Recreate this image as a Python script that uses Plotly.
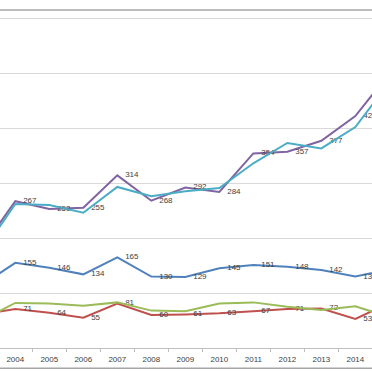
import plotly.graph_objects as go

years = list(range(2003, 2016))
purple = [180, 267, 253, 255, 314, 268, 292, 284, 354, 357, 377, 422, 500]
cyan = [172, 262, 260, 246, 293, 276, 285, 291, 336, 373, 363, 402, 483]
blue = [114, 155, 146, 134, 165, 130, 129, 145, 151, 148, 142, 130, 143]
red = [61, 71, 64, 55, 81, 60, 61, 63, 67, 71, 72, 53, 82]
green = [50, 82, 81, 77, 83, 68, 67, 81, 83, 75, 69, 76, 56]
tick_years = list(range(2004, 2015))
tick_labels = [str(y) for y in tick_years]


def labels(vals):
    return [""] + [str(v) for v in vals[1:-1]] + [""]


fig = go.Figure()
series = [
    (blue, "#4F81BD", True),
    (red, "#C0504D", True),
    (green, "#9BBB59", False),
    (purple, "#8064A2", True),
    (cyan, "#4BACC6", False),
]
for vals, col, lab in series:
    fig.add_trace(go.Scatter(
        x=years, y=vals,
        mode="lines+markers+text" if lab else "lines",
        line=dict(color=col, width=2),
        marker=dict(size=11, opacity=0, color=col),
        text=labels(vals) if lab else None,
        textposition="middle right",
        textfont=dict(family="Liberation Sans", size=8, color="#404040"),
        showlegend=False,
        hoverinfo="skip",
    ))

fig.update_layout(
    width=372, height=372, autosize=False,
    margin=dict(l=0, r=0, t=10, b=24, pad=0),
    paper_bgcolor="white", plot_bgcolor="white",
    xaxis=dict(
        range=[2003.55, 2014.49],
        tickmode="array", tickvals=tick_years, ticktext=tick_labels,
        ticks="", ticklabelstandoff=3,
        tickfont=dict(family="Liberation Sans", size=8, color="#404040"),
        showline=True, linecolor="#BFBFBF", linewidth=1,
        showgrid=False, zeroline=False,
        minor=dict(ticks="outside", ticklen=3, tickcolor="#BFBFBF",
                   tickmode="array",
                   tickvals=[y + 0.5 for y in range(2003, 2015)]),
    ),
    yaxis=dict(
        range=[0, 614.9], dtick=100, tick0=0,
        showgrid=True, gridcolor="#D9D9D9", gridwidth=1,
        showticklabels=False, zeroline=False, showline=False,
    ),
    shapes=[
        dict(type="line", xref="paper", yref="paper", x0=0, x1=1, y0=1, y1=1,
             line=dict(color="#A6A6A6", width=1.5)),
        dict(type="line", xref="paper", yref="paper", x0=0, x1=1, y0=-0.06, y1=-0.06,
             line=dict(color="#A6A6A6", width=1.5)),
    ],
)

fig.write_html("out.html", config={"displayModeBar": False},
               post_script="document.body.style.margin='0';")
